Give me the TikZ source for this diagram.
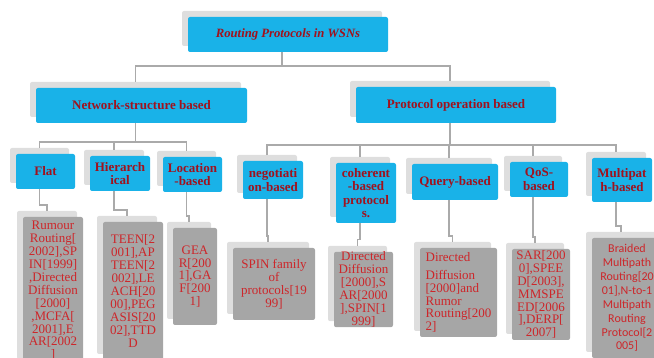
\documentclass[tikz,border=0pt]{standalone}
\usepackage{fontspec}
\setmainfont{Liberation Serif}
\newfontfamily\calibrifont{Carlito}
\usetikzlibrary{shadows,calc}
\definecolor{boxblue}{RGB}{25,178,232}
\definecolor{backgrey}{RGB}{222,222,222}
\definecolor{listgrey}{RGB}{166,166,166}
\definecolor{headred}{RGB}{160,18,30}
\definecolor{listred}{RGB}{205,38,42}
\definecolor{linkgrey}{RGB}{170,170,170}

\begin{document}
\begin{tikzpicture}[x=1pt, y=-1pt,
    card/.style={rounded corners=2pt, inner sep=0pt, align=center,
        general shadow={shadow xshift=-6pt, shadow yshift=6pt, fill=backgrey, rounded corners=2pt}},
    headbox/.style={card, fill=boxblue, text=headred, font=\fontsize{13}{13.5}\selectfont\bfseries},
    listbox/.style={card, fill=listgrey, text=listred, font=\fontsize{13}{12.9}\selectfont},
    link/.style={draw=linkgrey, line width=1.6pt}]

    \useasboundingbox (0,0) rectangle (654,358);
    \clip (0,0) rectangle (654,358);

    % Root and the two main families
    \node[headbox, minimum width=200pt, minimum height=35pt, font=\fontsize{12.7}{14}\selectfont\bfseries\itshape] (top) at (288,34.5) {Routing Protocols in WSNs};
    \node[headbox, minimum width=211pt, minimum height=35pt] (net) at (141.5,105.5) {Network-structure based};
    \node[headbox, minimum width=200pt, minimum height=36pt] (prot) at (456,105) {Protocol operation based};

    % Blue boxes for the sub-classes
    \node[headbox, minimum width=59pt, minimum height=35pt] (flat) at (45.5,171.5) {Flat};
    \node[headbox, minimum width=60pt, minimum height=35pt] (hier) at (120,173.5) {Hierarch\\ical};
    \node[headbox, minimum width=59pt, minimum height=35pt] (loc) at (192.5,174.5) {Location\\-based};
    \node[headbox, minimum width=60pt, minimum height=38pt] (nego) at (273,180) {negotiati\\on-based};
    \node[headbox, minimum width=60pt, minimum height=60pt] (coh) at (366,193) {coherent\\-based\\protocol\\s.};
    \node[headbox, minimum width=86pt, minimum height=36pt] (query) at (455,182) {Query-based};
    \node[headbox, minimum width=58pt, minimum height=35pt] (qos) at (539,179.5) {QoS-\\based};
    \node[headbox, minimum width=60pt, minimum height=44pt] (multi) at (622,180) {Multipat\\h-based};

    % Grey boxes with the protocols
    \node[listbox, minimum width=60pt, minimum height=148pt] (L-flat) at (53,291) {Rumour\\Routing[\\2002],SP\\IN[1999]\\,Directed\\Diffusion\\{}[2000]\\,MCFA[\\2001],E\\AR[2002\\]};
    \node[listbox, minimum width=60pt, minimum height=138pt] (L-hier) at (133,291) {TEEN[2\\001],AP\\TEEN[2\\002],LE\\ACH[20\\00],PEG\\ASIS[20\\02],TTD\\D};
    \node[listbox, minimum width=44pt, minimum height=97pt] (L-loc) at (195,276.5) {GEA\\R[200\\1],GA\\F[200\\1]};
    \node[listbox, minimum width=82pt, minimum height=72pt] (L-nego) at (274,284) {SPIN family\\of\\protocols[19\\99]};
    \node[listbox, minimum width=59pt, minimum height=75pt] (L-coh) at (363.5,289.5) {Directed\\Diffusion\\{}[2000],S\\AR[2000\\],SPIN[1\\999]};
    \node[listbox, minimum width=77pt, minimum height=89pt, align=left] (L-query) at (458.5,292.5) {Directed\\[5pt]Diffusion\\{}[2000]and\\Rumor\\Routing[200\\2]};
    \node[listbox, minimum width=58pt, minimum height=91pt] (L-qos) at (541,294.5) {SAR[200\\0],SPEE\\D[2003],\\MMSPE\\ED[2006\\],DERP[\\2007]};
    \node[listbox, minimum width=70pt, minimum height=120pt, font=\fontsize{12}{13.9}\selectfont\calibrifont] (L-multi) at (627,298) {Braided\\Multipath\\Routing[20\\01],N-to-1\\Multipath\\Routing\\Protocol[2\\005]};

    % Grey elbow lines between the levels
    \draw[link] ($(top.south)+(-6,0)$) -- ++(0,14) -| ($(net.north)+(-6,-6)$);
    \draw[link] ($(top.south)+(-6,0)$) -- ++(0,14) -| ($(prot.north)+(-6,-6)$);
    \foreach \n in {flat,hier,loc}
        \draw[link] ($(net.south)+(-6,0)$) -- ++(0,19) -| ($(\n.north)+(-6,-6)$);
    \foreach \n in {nego,coh,query,qos,multi}
        \draw[link] ($(prot.south)+(-6,0)$) -- ++(0,22) -| ($(\n.north)+(-6,-6)$);
    \foreach \n in {flat,hier,loc,nego,coh,query,qos,multi}
        \draw[link] ($(\n.south)+(-6,0)$) |- ($(L-\n.north)+(-6,-12)$) -- ($(L-\n.north)+(-6,-6)$);

\end{tikzpicture}
\end{document}
